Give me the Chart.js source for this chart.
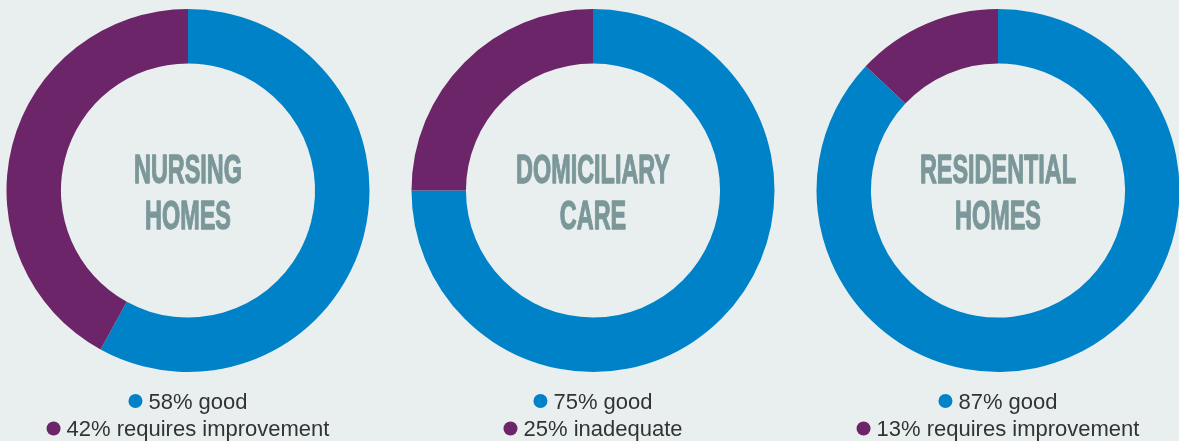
<!DOCTYPE html>
<html>
<head>
<meta charset="utf-8">
<script src="https://cdn.jsdelivr.net/npm/chart.js@4/dist/chart.umd.min.js"></script>
<style>
  html, body { margin: 0; padding: 0; background: #e9efef; width: 1179px; height: 441px; overflow: hidden; position: relative; }
  canvas { position: absolute; top: 0; }
</style>
</head>
<body>
<canvas id="c0" width="380" height="441"></canvas>
<canvas id="c1" width="380" height="441"></canvas>
<canvas id="c2" width="380" height="441"></canvas>
<script>
// ---- data ----
const chartTitles = [["NURSING", "HOMES"], ["DOMICILIARY", "CARE"], ["RESIDENTIAL", "HOMES"]];
const goodValues = [58, 75, 87];
const otherValues = [42, 25, 13];
const goodLabels = ["good", "good", "good"];
const otherLabels = ["requires improvement", "inadequate", "requires improvement"];

// ---- styles / layout ----
const BLUE = "#0082c8";
const PURPLE = "#6c2568";
const TITLE_COLOR = "#7b9799";
const LEGEND_COLOR = "#333333";
const centersX = [187.7, 592.8, 998.3];
const CANVAS_W = 380;

const centerTextPlugin = {
  id: "centerText",
  afterDraw(chart, args, opts) {
    const ctx = chart.ctx;
    const area = chart.chartArea;
    const cx = (area.left + area.right) / 2;
    // title
    ctx.save();
    ctx.font = "bold 41px 'Liberation Sans', Arial, sans-serif";
    const refW = ctx.measureText("NURSING").width;
    const sx = 108 / refW;
    ctx.fillStyle = TITLE_COLOR;
    ctx.strokeStyle = TITLE_COLOR;
    ctx.lineWidth = 1.3;
    ctx.lineJoin = "round";
    ctx.textAlign = "center";
    ctx.textBaseline = "alphabetic";
    const baselines = [183, 229.3];
    opts.title.forEach((line, i) => {
      ctx.save();
      ctx.translate(cx, baselines[i]);
      ctx.scale(sx, 1);
      ctx.fillText(line, 0, 0);
      ctx.strokeText(line, 0, 0);
      ctx.restore();
    });
    ctx.restore();

    // legend
    ctx.save();
    ctx.font = "22px 'Liberation Sans', Arial, sans-serif";
    ctx.textAlign = "left";
    ctx.textBaseline = "alphabetic";
    const ds = chart.data.datasets[0];
    const rows = [408.5, 436];
    chart.data.labels.forEach((lab, i) => {
      const txt = ds.data[i] + "% " + lab;
      const tw = ctx.measureText(txt).width;
      const dotR = 7, gap = 6;
      const total = dotR * 2 + gap + tw;
      const x0 = cx - total / 2;
      ctx.fillStyle = ds.backgroundColor[i];
      ctx.beginPath();
      ctx.arc(x0 + dotR, rows[i] - 7.5, dotR, 0, Math.PI * 2);
      ctx.fill();
      ctx.fillStyle = LEGEND_COLOR;
      ctx.fillText(txt, x0 + dotR * 2 + gap, rows[i]);
    });
    ctx.restore();
  }
};

for (let k = 0; k < 3; k++) {
  const cv = document.getElementById("c" + k);
  cv.style.left = (centersX[k] - CANVAS_W / 2) + "px";
  new Chart(cv, {
    type: "doughnut",
    data: {
      labels: [goodLabels[k], otherLabels[k]],
      datasets: [{
        data: [goodValues[k], otherValues[k]],
        backgroundColor: [BLUE, PURPLE],
        borderWidth: 0,
        hoverOffset: 0
      }]
    },
    options: {
      responsive: false,
      animation: false,
      devicePixelRatio: 1,
      cutout: "70%",
      layout: { padding: { top: 9, bottom: 69, left: 0, right: 0 } },
      plugins: {
        legend: { display: false },
        tooltip: { enabled: false },
        centerText: { title: chartTitles[k] }
      }
    },
    plugins: [centerTextPlugin]
  });
}
</script>
</body>
</html>
